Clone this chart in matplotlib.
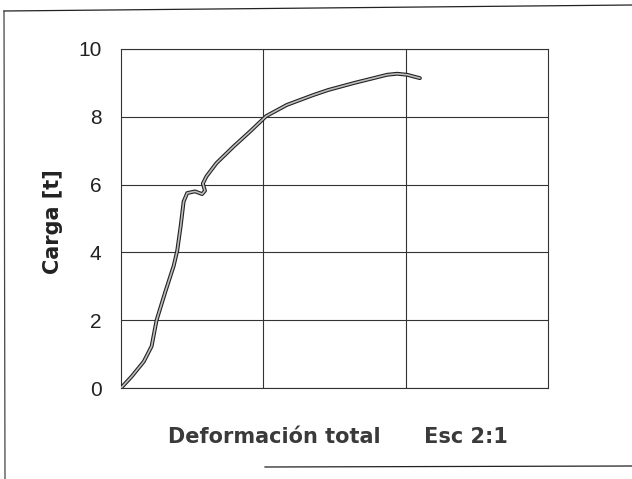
import matplotlib
matplotlib.use("Agg")
import matplotlib.pyplot as plt
from matplotlib.lines import Line2D

plt.rcParams['font.family'] = ['Liberation Sans', 'DejaVu Sans']

# Curva carga - deformación (deformación en divisiones de la escala)
deformacion = [0.0, 0.075, 0.16, 0.215, 0.25, 0.31, 0.37, 0.395, 0.42, 0.44,
               0.465, 0.52, 0.57, 0.59, 0.575, 0.60, 0.67, 0.79, 0.905, 1.02,
               1.165, 1.35, 1.455, 1.64, 1.87, 1.94, 2.01, 2.10]
carga = [0.0, 0.34, 0.78, 1.23, 2.0, 2.82, 3.6, 4.05, 4.8, 5.5,
         5.75, 5.8, 5.72, 5.82, 6.03, 6.24, 6.63, 7.12, 7.56, 8.02,
         8.35, 8.64, 8.79, 9.0, 9.24, 9.27, 9.24, 9.14]
yticks = [0, 2, 4, 6, 8, 10]
xgrid = [1, 2]

fig = plt.figure(figsize=(6.32, 4.79), dpi=100)
ax = fig.add_axes([121 / 632, 1 - 388 / 479, 427 / 632, 339 / 479])

# trazo doble: borde oscuro con relleno gris
ax.plot(deformacion, carga, color='#222222', lw=2.8, solid_capstyle='round',
        solid_joinstyle='round', zorder=3)
ax.plot(deformacion, carga, color='#bdbdbd', lw=1.2, solid_capstyle='round',
        solid_joinstyle='round', zorder=4)

ax.set_xlim(0, 3)
ax.set_ylim(0, 10)
ax.set_yticks(yticks)
ax.set_xticks(xgrid)
ax.set_xticklabels([])
ax.tick_params(length=0, labelsize=15, pad=14, colors='#222222')
ax.grid(True, color='#333333', lw=0.8)
for s in ax.spines.values():
    s.set_color('#333333')
    s.set_linewidth(0.8)

rotulo = dict(fontsize=15, fontweight='bold', family='DejaVu Sans')
ax.set_ylabel('Carga [t]', color='#222222', **rotulo)
ax.yaxis.set_label_coords(-0.136, 0.49)
ax.set_xlabel('Deformación total      Esc 2:1', color='#3a3a3a', va='baseline', **rotulo)
ax.xaxis.set_label_coords(0.508, -0.162)

# marco exterior de la hoja
fig.add_artist(Line2D([4 / 632, 1], [1 - 11 / 479, 1 - 5 / 479], color='#222222', lw=0.9))
fig.add_artist(Line2D([4 / 632, 5 / 632], [1 - 11 / 479, 0], color='#444444', lw=0.9))
fig.add_artist(Line2D([265 / 632, 1], [1 - 467 / 479, 1 - 466 / 479], color='#222222', lw=0.9))

fig.savefig('out.png', dpi=100)
